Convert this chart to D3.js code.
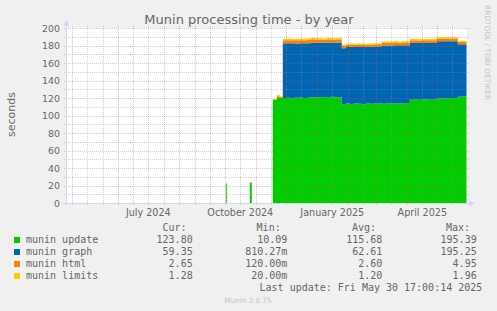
<!DOCTYPE html>
<html>
<head>
<meta charset="utf-8">
<script src="https://cdn.jsdelivr.net/npm/d3@7"></script>
<style>
  body { margin: 0; background: #f0f0f0; }
  svg { display: block; font-family: "DejaVu Sans", sans-serif; }
  .mono { font-family: "DejaVu Sans Mono", monospace; }
</style>
</head>
<body>
<svg id="chart" width="497" height="311"></svg>
<script>
// bins (start date of each bin, null = no data)
const binStart = [
  "2024-10-02", "2024-10-03", "2024-10-26", "2024-10-28",
  "2024-11-18", "2024-11-22", "2024-11-25", "2024-11-28",
  "2024-12-02", "2024-12-06", "2024-12-10", "2024-12-14", "2024-12-18", "2024-12-22", "2024-12-26", "2024-12-30",
  "2025-01-03", "2025-01-07", "2025-01-11", "2025-01-15", "2025-01-19", "2025-01-23", "2025-01-26", "2025-01-30",
  "2025-02-03", "2025-02-07", "2025-02-11", "2025-02-15", "2025-02-19", "2025-02-23", "2025-02-27",
  "2025-03-03", "2025-03-07", "2025-03-11", "2025-03-15", "2025-03-19", "2025-03-23", "2025-03-27", "2025-03-31",
  "2025-04-04", "2025-04-08", "2025-04-12", "2025-04-16", "2025-04-20", "2025-04-24", "2025-04-28",
  "2025-05-01", "2025-05-05", "2025-05-09", "2025-05-13", "2025-05-17", "2025-05-22", "2025-05-26"
]
const muninUpdate = [
  22.5, null, 22.0, null,
  118.0, 120.0, 120.5, 120.0,
  120.3, 119.8, 120.2, 120.5, 120.1, 120.4, 120.8, 121.0,
  120.6, 121.2, 120.9, 121.3, 120.7, 121.0, 113.0, 113.6,
  113.2, 113.8, 113.4, 113.0, 113.7, 113.3, 113.6,
  113.9, 113.5, 113.8, 114.0, 113.6, 114.1, 113.8, 114.2,
  118.0, 118.3, 117.9, 118.2, 118.5, 118.1, 118.4,
  119.5, 119.8, 119.4, 119.9, 119.6, 121.5, 122.0
]
const muninGraph = [
  0, null, 0.8, null,
  0, 0, 0, 62.5,
  62.2, 62.8, 62.0, 62.1, 62.6, 62.3, 62.5, 62.2,
  62.8, 62.1, 62.6, 62.0, 62.7, 62.4, 64.0, 64.6,
  65.3, 64.4, 65.0, 65.4, 64.5, 65.2, 64.8,
  65.0, 66.5, 66.3, 66.0, 66.6, 66.1, 66.5, 66.2,
  64.9, 64.5, 65.0, 64.7, 64.4, 64.9, 64.6,
  65.3, 65.0, 65.5, 65.0, 65.2, 59.9, 59.4
]
const muninHtml = [
  0, null, 0.7, null,
  0.5, 2.0, 1.0, 3.5,
  3.6, 3.3, 3.7, 3.5, 3.4, 3.6, 3.8, 3.5,
  3.6, 3.4, 3.7, 3.5, 3.6, 3.5, 2.6, 2.4,
  2.5, 2.6, 2.3, 2.6, 2.4, 2.5, 2.7,
  2.5, 3.0, 3.2, 3.1, 3.3, 3.0, 3.2, 3.1,
  3.0, 3.1, 2.9, 3.0, 3.2, 2.9, 3.0,
  3.0, 3.1, 2.9, 3.0, 3.1, 2.8, 2.7
]
const muninLimits = [
  0, null, 0.3, null,
  0.3, 1.5, 0.5, 1.8,
  1.5, 1.6, 1.4, 1.7, 1.5, 1.6, 1.5, 1.7,
  1.4, 1.6, 1.5, 1.7, 1.4, 1.6, 1.5, 1.3,
  1.4, 1.2, 1.5, 1.3, 1.4, 1.2, 1.4,
  1.3, 1.5, 1.6, 1.5, 1.6, 1.5, 1.7, 1.5,
  1.5, 1.4, 1.6, 1.5, 1.4, 1.5, 1.6,
  1.6, 1.5, 1.6, 1.5, 1.4, 1.3, 1.3
]

const seriesNames = ["munin update", "munin graph", "munin html", "munin limits"]
const seriesColors = ["#00cc00", "#0066b3", "#ff8000", "#ffcc00"]
const curVals = ["123.80", "59.35", "2.65", "1.28"]
const minVals = ["10.09", "810.27m", "120.00m", "20.00m"]
const avgVals = ["115.68", "62.61", "2.60", "1.20"]
const maxVals = ["195.39", "195.25", "4.95", "1.96"]
const yTicks = [0, 20, 40, 60, 80, 100, 120, 140, 160, 180, 200]

const svg = d3.select("#chart")
const parse = d3.timeParse("%Y-%m-%d")
const tStart = new Date(2024, 3, 25, 17, 0, 0)
const tEnd = new Date(2025, 4, 30, 17, 0, 14)

const x = d3.scaleTime().domain([tStart, tEnd]).range([66.5, 466.5])
const y = d3.scaleLinear().domain([0, 200]).range([203, 28])

// canvas
svg.append("rect").attr("x", 66.5).attr("y", 28).attr("width", 400).attr("height", 175).attr("fill", "#fff")

// expand bins to step points
const keys = ["update", "graph", "html", "limits"]
const src = [muninUpdate, muninGraph, muninHtml, muninLimits]
const points = []
binStart.forEach((s, i) => {
  const t0 = parse(s)
  const t1 = i < binStart.length - 1 ? parse(binStart[i + 1]) : tEnd
  const row = {}
  keys.forEach((k, j) => row[k] = src[j][i] == null ? NaN : src[j][i])
  points.push({ date: t0, ...row })
  if (src[0][i] != null) points.push({ date: t1, ...row })
})

const stacked = d3.stack().keys(keys)(points)
const area = d3.area()
  .defined(d => !isNaN(d[1]))
  .x(d => x(d.data.date))
  .y0(d => y(d[0]))
  .y1(d => y(d[1]))

svg.append("g").selectAll("path")
  .data(stacked)
  .join("path")
  .attr("d", area)
  .attr("fill", (d, i) => seriesColors[i])

// grid
const minorCol = "rgba(143,143,143,0.42)"
const majorCol = "rgba(222,79,79,0.36)"
const grid = svg.append("g").attr("shape-rendering", "crispEdges")
const minorY = d3.range(10, 200, 20)
grid.selectAll(".ymin").data(minorY).join("line")
  .attr("x1", 64).attr("x2", 469)
  .attr("y1", d => Math.round(y(d)) + 0.5).attr("y2", d => Math.round(y(d)) + 0.5)
  .attr("stroke", minorCol).attr("stroke-dasharray", "1,1")

const months = d3.timeMonth.range(tStart, tEnd)
const mids = months.map(m => d3.timeDay.offset(m, 15)).concat([new Date(2024, 3, 16)]).filter(d => d > tStart && d < tEnd)
grid.selectAll(".xmin").data(mids).join("line")
  .attr("x1", d => Math.round(x(d)) + 0.5).attr("x2", d => Math.round(x(d)) + 0.5)
  .attr("y1", 26).attr("y2", 206)
  .attr("stroke", minorCol).attr("stroke-dasharray", "1,1")

grid.selectAll(".ymaj").data(yTicks).join("line")
  .attr("x1", 64).attr("x2", 469)
  .attr("y1", d => Math.round(y(d)) + 0.5).attr("y2", d => Math.round(y(d)) + 0.5)
  .attr("stroke", majorCol).attr("stroke-dasharray", "1,1")

grid.selectAll(".xmaj").data(months).join("line")
  .attr("x1", d => Math.round(x(d)) + 0.5).attr("x2", d => Math.round(x(d)) + 0.5)
  .attr("y1", 26).attr("y2", 206)
  .attr("stroke", majorCol).attr("stroke-dasharray", "1,1")

// axes lines + arrows
const axisCol = "#cfd6f8"
svg.append("line").attr("x1", 66.5).attr("x2", 66.5).attr("y1", 206).attr("y2", 24).attr("stroke", axisCol)
svg.append("line").attr("x1", 63).attr("x2", 470).attr("y1", 203.5).attr("y2", 203.5).attr("stroke", axisCol)
svg.append("path").attr("d", "M63.5,26 L66.5,20 L69.5,26 Z").attr("fill", axisCol)
svg.append("path").attr("d", "M469,200.5 L475,203.5 L469,206.5 Z").attr("fill", axisCol)

// y labels
const yAxis = d3.axisLeft(y).tickValues(yTicks).tickSize(0).tickPadding(6.5)
svg.append("g").attr("transform", "translate(66.5,0)").call(yAxis)
  .call(g => g.select(".domain").remove())
  .selectAll("text").attr("fill", "#666").attr("font-size", "9.4px").attr("font-family", "DejaVu Sans")

// x labels, centred in the middle of every third month
const labelDates = d3.timeMonth.every(3).range(tStart, tEnd).map(m => d3.timeDay.offset(m, 15))
const xAxis = d3.axisBottom(x).tickValues(labelDates).tickSize(0).tickPadding(6.3)
  .tickFormat(d3.timeFormat("%B %Y"))
svg.append("g").attr("transform", "translate(0,203)").call(xAxis)
  .call(g => g.select(".domain").remove())
  .selectAll("text").attr("fill", "#666").attr("font-size", "9.6px").attr("font-family", "DejaVu Sans")

// title and side texts
svg.append("text").attr("x", 249).attr("y", 23.5).attr("text-anchor", "middle")
  .attr("fill", "#666").attr("font-size", "13px").text("Munin processing time - by year")
svg.append("text").attr("transform", "translate(15,114.5) rotate(-90)").attr("text-anchor", "middle")
  .attr("fill", "#666").attr("font-size", "11px").text("seconds")
svg.append("text").attr("transform", "translate(485,5) rotate(90)")
  .attr("fill", "#c4c4c4").attr("font-size", "7.4px").text("RRDTOOL / TOBI OETIKER")
svg.append("text").attr("x", 248).attr("y", 303).attr("text-anchor", "middle")
  .attr("fill", "#c4c4c4").attr("font-size", "7.2px").text("Munin 2.0.75")

// legend
const leg = svg.append("g").attr("class", "mono").attr("font-size", "10px").attr("fill", "#666")
const cols = [
  { head: "Cur:", vals: curVals, hx: 186.5, vx: 192.7 },
  { head: "Min:", vals: minVals, hx: 280.7, vx: 287.3 },
  { head: "Avg:", vals: avgVals, hx: 376, vx: 382.3 },
  { head: "Max:", vals: maxVals, hx: 470, vx: 476.7 }
]
cols.forEach(c => {
  leg.append("text").attr("x", c.hx).attr("y", 231).attr("text-anchor", "end").text(c.head)
  leg.selectAll(null).data(c.vals).join("text")
    .attr("x", c.vx).attr("y", (d, i) => 243 + i * 12).attr("text-anchor", "end").text(d => d)
})
leg.selectAll("rect").data(seriesNames).join("rect")
  .attr("x", 14).attr("y", (d, i) => 237 + i * 12).attr("width", 6).attr("height", 6)
  .attr("fill", (d, i) => seriesColors[i])
leg.selectAll(".name").data(seriesNames).join("text")
  .attr("x", 26).attr("y", (d, i) => 243 + i * 12).text(d => d)
leg.append("text").attr("x", 482.3).attr("y", 291).attr("text-anchor", "end")
  .text("Last update: Fri May 30 17:00:14 2025")
</script>
</body>
</html>
